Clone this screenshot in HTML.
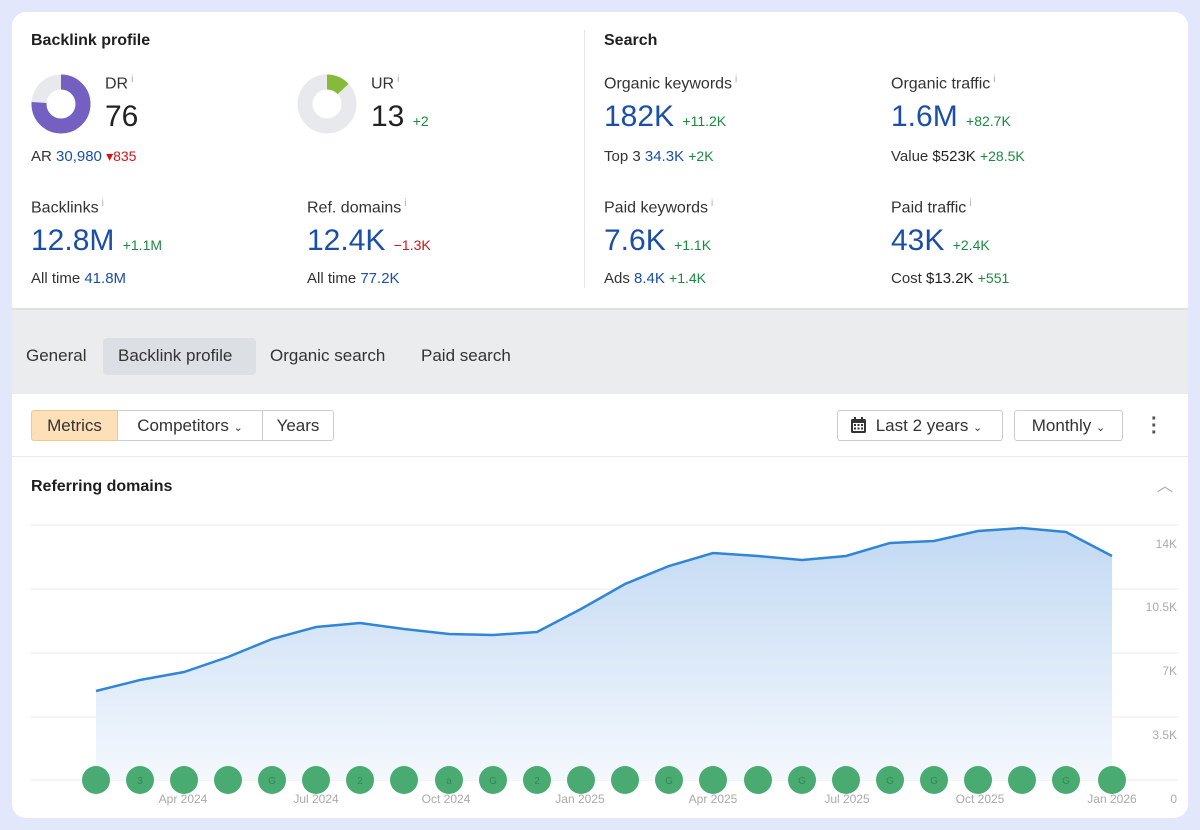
<!DOCTYPE html>
<html><head><meta charset="utf-8"><style>
*{box-sizing:border-box;margin:0;padding:0}
body{width:1200px;height:830px;background:#e2e7fb;font-family:"Liberation Sans",sans-serif;color:#222;position:relative;overflow:hidden}
.card{position:absolute;left:12px;top:12px;width:1176px;height:806px;background:#fff;border-radius:14px;overflow:hidden}
.a{position:absolute;white-space:nowrap}
.h{font-weight:bold;font-size:16px;color:#1f1f1f}
.lbl{font-size:16px;color:#333}
.lbl sup{font-size:10px;color:#aaa;margin-left:3px}
.big{font-size:30px;color:#1a4fa8}
.blk{color:#222}
.g{color:#1b8a3f;font-size:14px}
.r{color:#d0141b;font-size:14px}
.s{font-size:15px;color:#333}
.s b{font-weight:normal;color:#1a4fa8}
.btn{position:absolute;border:1px solid #ccc;border-radius:3px;font-size:17px;color:#333;height:31px;line-height:29px;text-align:center}
</style></head><body>
<div class="card">
<div class="a h" style="left:19px;top:20px">Backlink profile</div>
<div class="a h" style="left:592px;top:20px">Search</div>
<div class="a" style="left:572px;top:18px;width:1px;height:258px;background:#e5e5e5"></div>

<svg class="a" style="left:19px;top:62px" width="60" height="60" viewBox="0 0 60 60">
<circle cx="30" cy="30" r="22" fill="none" stroke="#e8e9ec" stroke-width="15"/>
<circle cx="30" cy="30" r="22" fill="none" stroke="#7460c0" stroke-width="15" stroke-dasharray="105 200" transform="rotate(-90 30 30)"/>
</svg>
<div class="a lbl" style="left:93px;top:62px">DR<sup>i</sup></div>
<div class="a big blk" style="left:93px;top:88px">76</div>
<div class="a s" style="left:19px;top:136px">AR <b>30,980</b> <span class="r">▾835</span></div>

<svg class="a" style="left:285px;top:62px" width="60" height="60" viewBox="0 0 60 60">
<circle cx="30" cy="30" r="22" fill="none" stroke="#e8e9ec" stroke-width="15"/>
<circle cx="30" cy="30" r="22" fill="none" stroke="#86bb3a" stroke-width="15" stroke-dasharray="18 200" transform="rotate(-90 30 30)"/>
</svg>
<div class="a lbl" style="left:359px;top:62px">UR<sup>i</sup></div>
<div class="a big blk" style="left:359px;top:88px">13 <span class="g">+2</span></div>

<div class="a lbl" style="left:19px;top:186px">Backlinks<sup>i</sup></div>
<div class="a big" style="left:19px;top:212px">12.8M <span class="g">+1.1M</span></div>
<div class="a s" style="left:19px;top:258px">All time <b>41.8M</b></div>
<div class="a lbl" style="left:295px;top:186px">Ref. domains<sup>i</sup></div>
<div class="a big" style="left:295px;top:212px">12.4K <span class="r">−1.3K</span></div>
<div class="a s" style="left:295px;top:258px">All time <b>77.2K</b></div>

<div class="a lbl" style="left:592px;top:62px">Organic keywords<sup>i</sup></div>
<div class="a big" style="left:592px;top:88px">182K <span class="g">+11.2K</span></div>
<div class="a s" style="left:592px;top:136px">Top 3 <b>34.3K</b> <span class="g">+2K</span></div>
<div class="a lbl" style="left:879px;top:62px">Organic traffic<sup>i</sup></div>
<div class="a big" style="left:879px;top:88px">1.6M <span class="g">+82.7K</span></div>
<div class="a s" style="left:879px;top:136px">Value <span class="blk">$523K</span> <span class="g">+28.5K</span></div>
<div class="a lbl" style="left:592px;top:186px">Paid keywords<sup>i</sup></div>
<div class="a big" style="left:592px;top:212px">7.6K <span class="g">+1.1K</span></div>
<div class="a s" style="left:592px;top:258px">Ads <b>8.4K</b> <span class="g">+1.4K</span></div>
<div class="a lbl" style="left:879px;top:186px">Paid traffic<sup>i</sup></div>
<div class="a big" style="left:879px;top:212px">43K <span class="g">+2.4K</span></div>
<div class="a s" style="left:879px;top:258px">Cost <span class="blk">$13.2K</span> <span class="g">+551</span></div>

<div class="a" style="left:0;top:296px;width:1176px;height:86px;background:#ebecee;border-top:2px solid #e0e0e0"></div>
<div class="a" style="left:91px;top:326px;width:153px;height:37px;background:#dcdfe4;border-radius:4px"></div>
<div class="a" style="left:14px;top:334px;font-size:17px;color:#333">General</div>
<div class="a" style="left:106px;top:334px;font-size:17px;color:#333">Backlink profile</div>
<div class="a" style="left:258px;top:334px;font-size:17px;color:#333">Organic search</div>
<div class="a" style="left:409px;top:334px;font-size:17px;color:#333">Paid search</div>

<div class="btn" style="left:19px;top:398px;width:87px;background:#fde0b8;border-color:#f0c890;border-radius:3px 0 0 3px">Metrics</div>
<div class="btn" style="left:105px;top:398px;width:146px;border-radius:0">Competitors <span style="font-size:11px">⌄</span></div>
<div class="btn" style="left:250px;top:398px;width:72px;border-radius:0 3px 3px 0">Years</div>
<div class="btn" style="left:825px;top:398px;width:166px;padding-left:18px">Last 2 years <span style="font-size:11px">⌄</span></div>
<svg class="a" style="left:838px;top:405px" width="17" height="17" viewBox="0 0 17 17"><rect x="1" y="2" width="15" height="14" rx="1.5" fill="#333"/><rect x="3" y="6" width="11" height="8" fill="#fff"/><g fill="#333"><rect x="4" y="7" width="2" height="2"/><rect x="7.5" y="7" width="2" height="2"/><rect x="11" y="7" width="2" height="2"/><rect x="4" y="10.5" width="2" height="2"/><rect x="7.5" y="10.5" width="2" height="2"/><rect x="11" y="10.5" width="2" height="2"/></g><rect x="4" y="0" width="2" height="4" fill="#333"/><rect x="11" y="0" width="2" height="4" fill="#333"/></svg>
<div class="btn" style="left:1002px;top:398px;width:109px">Monthly <span style="font-size:11px">⌄</span></div>
<div class="a" style="left:1139px;top:404px;width:6px;font-size:20px;line-height:7px;color:#555;font-weight:bold">·<br>·<br>·</div>
<div class="a" style="left:0;top:444px;width:1176px;height:1px;background:#eaeaea"></div>
<div class="a h" style="left:19px;top:466px">Referring domains</div>
<div class="a" style="left:1145px;top:460px;font-size:16px;color:#aaa">︿</div>
</div>

<svg class="a" style="left:0;top:0" width="1200" height="830">
<defs><linearGradient id="gr" x1="0" y1="0" x2="0" y2="1"><stop offset="0" stop-color="#c2d9f3"/><stop offset="1" stop-color="#f4f8fd"/></linearGradient></defs>
<g stroke="#e8e8e8" stroke-width="1">
<line x1="31" y1="525" x2="1178" y2="525"/><line x1="31" y1="589" x2="1178" y2="589"/><line x1="31" y1="653" x2="1178" y2="653"/><line x1="31" y1="717" x2="1178" y2="717"/><line x1="31" y1="780" x2="1178" y2="780"/>
</g>
<polygon fill="url(#gr)" points="96,780 96,691 140,680 184,672 228,657 272,639 316,627 360,623 404,629 449,634 493,635 537,632 581,609 625,584 669,566 713,553 758,556 802,560 846,556 890,543 934,541 978,531 1022,528 1066,532 1112,556 1112,780"/>
<polyline fill="none" stroke="#2f86d8" stroke-width="2.5" points="96,691 140,680 184,672 228,657 272,639 316,627 360,623 404,629 449,634 493,635 537,632 581,609 625,584 669,566 713,553 758,556 802,560 846,556 890,543 934,541 978,531 1022,528 1066,532 1112,556"/>
<g fill="#4aab72">
<circle cx="96" cy="780" r="14"/><circle cx="140" cy="780" r="14"/><circle cx="184" cy="780" r="14"/><circle cx="228" cy="780" r="14"/><circle cx="272" cy="780" r="14"/><circle cx="316" cy="780" r="14"/><circle cx="360" cy="780" r="14"/><circle cx="404" cy="780" r="14"/><circle cx="449" cy="780" r="14"/><circle cx="493" cy="780" r="14"/><circle cx="537" cy="780" r="14"/><circle cx="581" cy="780" r="14"/><circle cx="625" cy="780" r="14"/><circle cx="669" cy="780" r="14"/><circle cx="713" cy="780" r="14"/><circle cx="758" cy="780" r="14"/><circle cx="802" cy="780" r="14"/><circle cx="846" cy="780" r="14"/><circle cx="890" cy="780" r="14"/><circle cx="934" cy="780" r="14"/><circle cx="978" cy="780" r="14"/><circle cx="1022" cy="780" r="14"/><circle cx="1066" cy="780" r="14"/><circle cx="1112" cy="780" r="14"/>
</g>
<g font-family="Liberation Sans" font-size="10" fill="#2f8a55" text-anchor="middle">
<text x="140" y="784">3</text><text x="272" y="784">G</text><text x="360" y="784">2</text><text x="449" y="784">a</text><text x="493" y="784">G</text><text x="537" y="784">2</text><text x="669" y="784">G</text><text x="802" y="784">G</text><text x="890" y="784">G</text><text x="934" y="784">G</text><text x="1066" y="784">G</text>
</g>
<g font-family="Liberation Sans" font-size="12" fill="#aaa" text-anchor="middle">
<text x="183" y="803">Apr 2024</text><text x="316" y="803">Jul 2024</text><text x="446" y="803">Oct 2024</text><text x="580" y="803">Jan 2025</text><text x="713" y="803">Apr 2025</text><text x="847" y="803">Jul 2025</text><text x="980" y="803">Oct 2025</text><text x="1112" y="803">Jan 2026</text>
</g>
<g font-family="Liberation Sans" font-size="12" fill="#aaa" text-anchor="end">
<text x="1177" y="548">14K</text><text x="1177" y="611">10.5K</text><text x="1177" y="675">7K</text><text x="1177" y="739">3.5K</text><text x="1177" y="803">0</text>
</g>
</svg>
</body></html>
